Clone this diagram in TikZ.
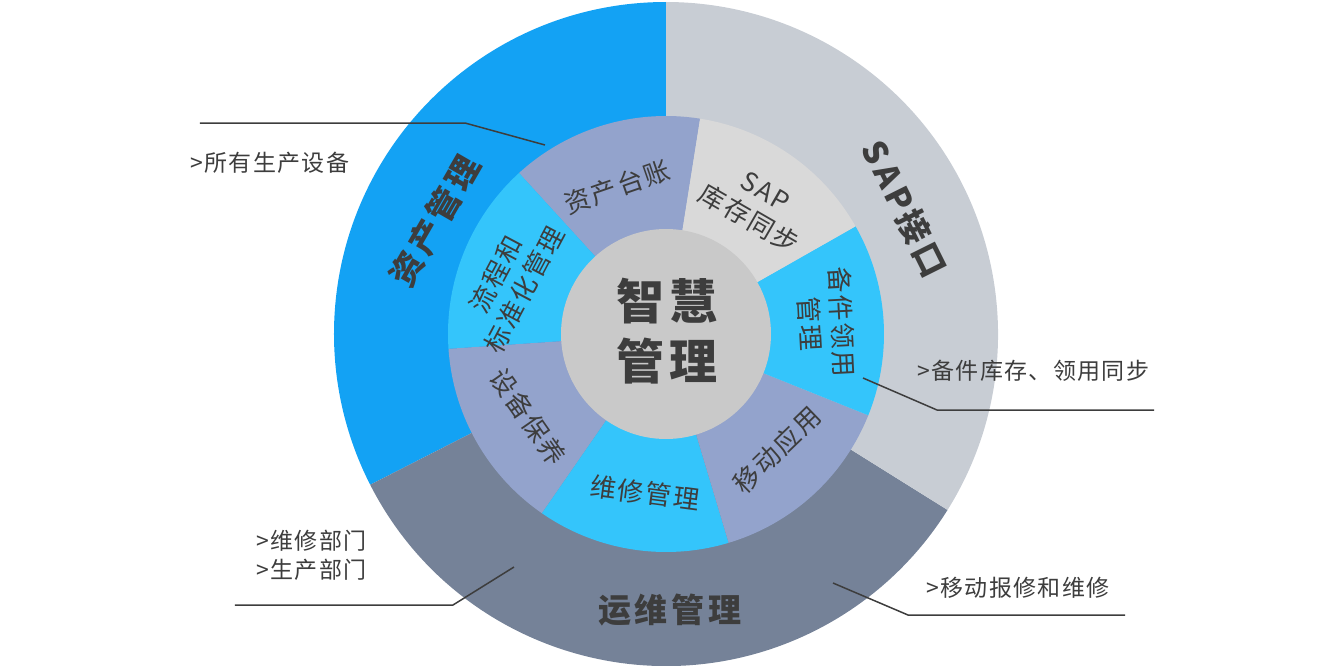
\documentclass[tikz,border=0pt]{standalone}
\usepackage{fontspec}
\usepackage{tikz}
\usetikzlibrary{positioning}
\setmainfont{Noto Sans CJK SC}
\newfontfamily\cjk{Noto Sans CJK SC}[LetterSpace=12]
\newfontfamily\cjkring{Noto Sans CJK SC}[LetterSpace=8]
\newfontfamily\cjknote{Noto Sans CJK SC}[LetterSpace=6]
\definecolor{assetblue}{HTML}{13A2F4}
\definecolor{sapgray}{HTML}{C8CDD4}
\definecolor{opsslate}{HTML}{758298}
\definecolor{lavender}{HTML}{93A3CC}
\definecolor{skycyan}{HTML}{34C5FB}
\definecolor{syncgray}{HTML}{D9D9D9}
\definecolor{hubgray}{HTML}{C9C9C9}
\definecolor{inkgray}{HTML}{3D3D3D}
\tikzstyle{ringlabel}=[text=inkgray, font=\cjkring\fontsize{26}{32}\selectfont, align=center, inner sep=0]
\tikzstyle{sectorlabel}=[text=inkgray, font=\cjk\bfseries\fontsize{33}{40}\selectfont, inner sep=0]
\tikzstyle{hublabel}=[text=inkgray, font=\cjk\bfseries\fontsize{48}{60}\selectfont, align=center, inner sep=0]
\tikzstyle{callout}=[text=inkgray, font=\cjknote\fontsize{23}{29}\selectfont, align=left, anchor=west, inner sep=0]
\tikzstyle{leader}=[draw=inkgray, line width=1.5pt]
\tikzset{every picture/.style={
    x=1pt, y=1pt
  }
}

\begin{document}
\begin{tikzpicture}
        \useasboundingbox (-666,-331) rectangle (675,334);
        % outer ring
        \fill[assetblue] (0,0) -- (90:332) arc[start angle=90, end angle=207, radius=332] -- cycle;
        \fill[opsslate] (0,0) -- (207:332) arc[start angle=207, end angle=328, radius=332] -- cycle;
        \fill[sapgray] (0,0) -- (-32:332) arc[start angle=-32, end angle=90, radius=332] -- cycle;
        % inner ring
        \fill[lavender] (0,0) -- (81:218) arc[start angle=81, end angle=132.4, radius=218] -- cycle;
        \fill[skycyan] (0,0) -- (132.4:218) arc[start angle=132.4, end angle=183.9, radius=218] -- cycle;
        \fill[lavender] (0,0) -- (183.9:218) arc[start angle=183.9, end angle=235.3, radius=218] -- cycle;
        \fill[skycyan] (0,0) -- (235.3:218) arc[start angle=235.3, end angle=286.7, radius=218] -- cycle;
        \fill[lavender] (0,0) -- (286.7:218) arc[start angle=286.7, end angle=338.1, radius=218] -- cycle;
        \fill[skycyan] (0,0) -- (-21.9:218) arc[start angle=-21.9, end angle=29.6, radius=218] -- cycle;
        \fill[syncgray] (0,0) -- (29.6:218) arc[start angle=29.6, end angle=81, radius=218] -- cycle;
        \node[circle, fill=hubgray, minimum size=210pt, inner sep=0] at (0,0) (hub) {};
        \node[hublabel] at (1,3) (hubtext) {智慧\\管理};

        \node[sectorlabel, rotate=60] at (-231,113) (asset) {资产管理};
        \node[sectorlabel, rotate=-63.5] at (239,125) (sap) {SAP接口};
        \node[sectorlabel] at (4,-276) (ops) {运维管理};

        \node[ringlabel, rotate=19] at (-49,147) (ledger) {资产台账};
        \node[ringlabel, rotate=-30] at (91,128) (sync) {SAP\\库存同步};
        \node[ringlabel, rotate=-87] at (160,11) (spare) {备件领用\\管理};
        \node[ringlabel, rotate=44] at (111,-116) (mobile) {移动应用};
        \node[ringlabel, rotate=-7.5] at (-21,-159) (repair) {维修管理};
        \node[ringlabel, rotate=-55] at (-138,-83) (upkeep) {设备保养};
        \node[ringlabel, rotate=62] at (-156,52) (process) {流程和\\标准化管理};

        % callouts
        \node[callout] at (-476,171) (alldevices) {>所有生产设备};
        \node[callout] at (-410,-221) (depts) {>维修部门\\>生产部门};
        \node[callout] at (251,-37) (sparesync) {>备件库存、领用同步};
        \node[callout] at (260,-254) (mobilefix) {>移动报修和维修};

        \coordinate (a1) at (-466,211);
        \coordinate (a2) at (-201,211);
        \coordinate (a3) at (-121,189);
        \coordinate (b1) at (-431,-271);
        \coordinate (b2) at (-213,-271);
        \coordinate (b3) at (-152,-233);
        \coordinate (c1) at (197,-44);
        \coordinate (c2) at (271,-76);
        \coordinate (c3) at (488,-76);
        \coordinate (d1) at (167,-249);
        \coordinate (d2) at (242,-281);
        \coordinate (d3) at (459,-281);
        \draw[leader] (a1) -- (a2) -- (a3);
        \draw[leader] (b1) -- (b2) -- (b3);
        \draw[leader] (c1) -- (c2) -- (c3);
        \draw[leader] (d1) -- (d2) -- (d3);
      \end{tikzpicture}
\end{document}
